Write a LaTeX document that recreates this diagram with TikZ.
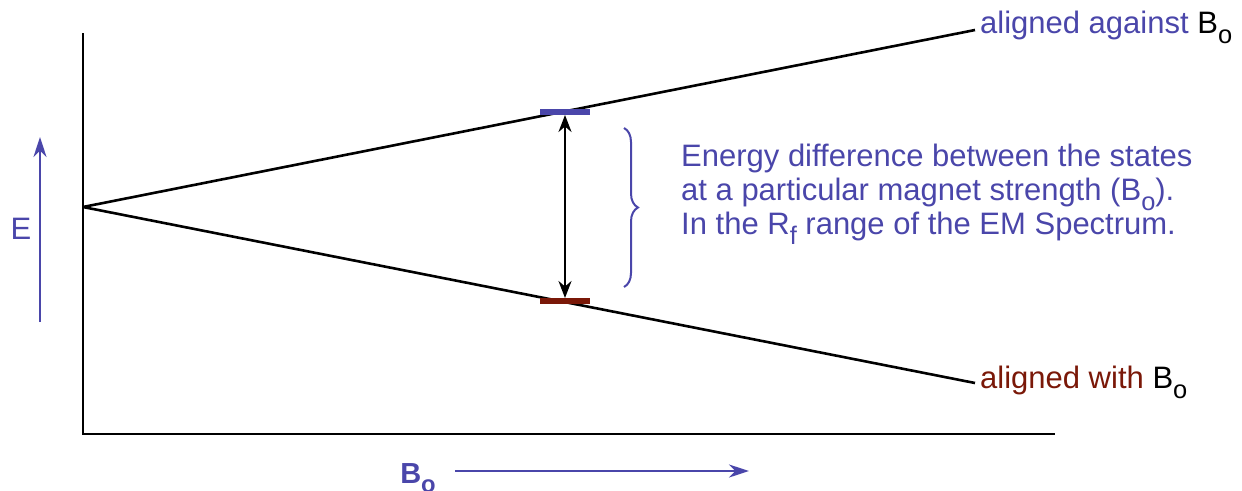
\documentclass[tikz,border=0pt]{standalone}
\usepackage{fontspec}
\setmainfont{Liberation Sans}
\usetikzlibrary{arrows.meta,decorations.pathreplacing}
\definecolor{eblue}{RGB}{74,70,170}
\definecolor{ered}{RGB}{122,24,8}
\newcommand\mysub[1]{\raisebox{-0.32em}{\scalebox{0.82}{#1}}}
\begin{document}
\begin{tikzpicture}[x=1pt,y=-1pt,
  axis/.style={line width=2.8pt,black},
  lvl/.style={line width=2.6pt,black},
  lbl/.style={font=\fontsize{31}{34}\selectfont,inner sep=0pt,anchor=west},
  tick/.style={line width=6pt}]
\useasboundingbox (0,0) rectangle (1242,490);
% axes
\coordinate (ytop) at (83,33);
\coordinate (orig) at (83,434);
\coordinate (xend) at (1055,434);
\draw[axis] (ytop) -- (orig) -- (xend);
% levels
\coordinate (split) at (83,207);
\coordinate (hi) at (975,30);
\coordinate (lo) at (975,383);
\draw[lvl] (split) -- (hi);
\draw[lvl] (split) -- (lo);
% ticks
\coordinate (bt1) at (540,112);
\coordinate (bt2) at (590,112);
\coordinate (rt1) at (540,301);
\coordinate (rt2) at (590,301);
\draw[tick,eblue] (bt1) -- (bt2);
\draw[tick,ered] (rt1) -- (rt2);
% double arrow
\coordinate (da1) at (565,115);
\coordinate (da2) at (565,298);
\draw[line width=2.4pt,{Stealth[length=17pt,width=13pt]}-{Stealth[length=17pt,width=13pt]}] (da1) -- (da2);
% brace
\coordinate (br1) at (624,128);
\coordinate (br2) at (624,287);
\draw[eblue,line width=2pt,decorate,decoration={brace,amplitude=14pt,aspect=0.5}] (br1) -- (br2);
% labels
\node[lbl,text=eblue] (against) at (980,27) {aligned against \textcolor{black}{B\mysub{o}}};
\node[lbl,text=ered] (with) at (980,382) {aligned with \textcolor{black}{B\mysub{o}}};
\node[lbl,text=eblue,align=left,font=\fontsize{31}{34}\selectfont] (desc) at (681,194) {Energy difference between the states\\at a particular magnet strength (B\mysub{o}).\\In the R\mysub{f} range of the EM Spectrum.};
% E arrow
\coordinate (e1) at (40,322);
\coordinate (e2) at (40,137);
\draw[eblue,line width=2.6pt,-{Stealth[length=20pt,width=13pt]}] (e1) -- (e2);
\node[lbl,text=eblue,anchor=center] (E) at (21,229) {E};
% B arrow
\coordinate (b1) at (455,471);
\coordinate (b2) at (749,471);
\draw[eblue,line width=2.6pt,-{Stealth[length=20pt,width=13pt]}] (b1) -- (b2);
\node[lbl,text=eblue,anchor=center,font=\bfseries\fontsize{29}{30}\selectfont] (B) at (418,478) {B\mysub{o}};
\end{tikzpicture}
\end{document}
